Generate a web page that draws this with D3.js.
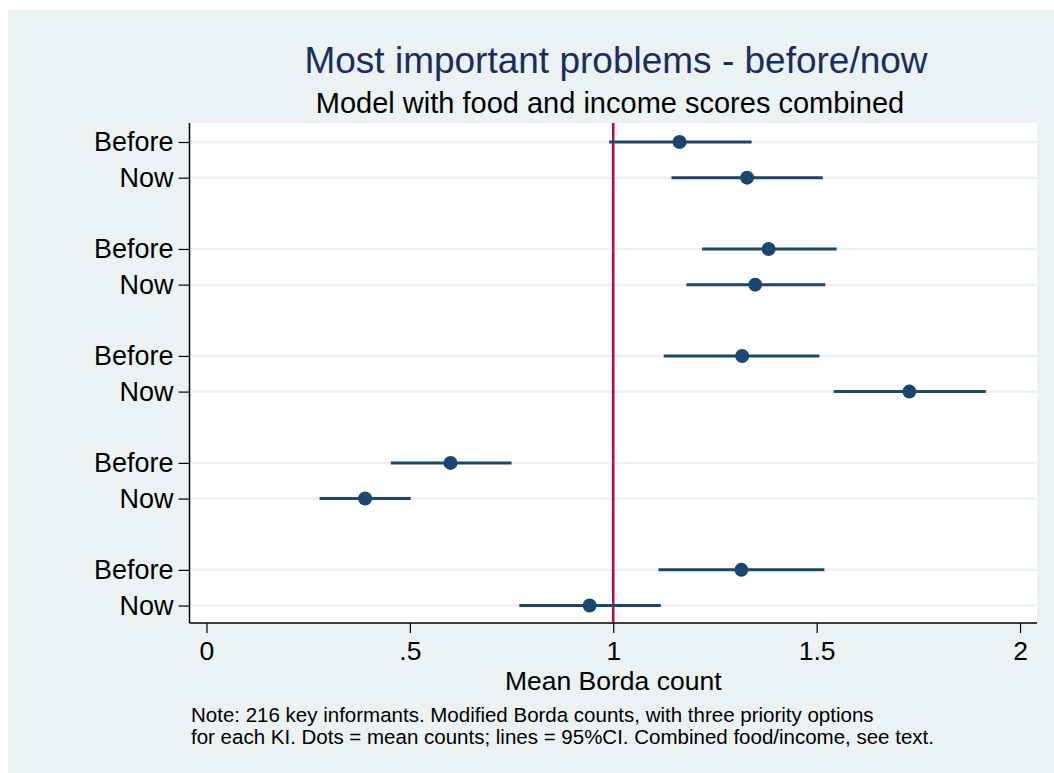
<!DOCTYPE html>
<html>
<head>
<meta charset="utf-8">
<script src="https://cdn.jsdelivr.net/npm/d3@7"></script>
<style>
  html, body { margin: 0; padding: 0; background: #ffffff; }
  svg { display: block; }
  text { font-family: "Liberation Sans", Arial, sans-serif; }
</style>
</head>
<body>
<svg id="chart" width="1054" height="773"></svg>
<script>
// ---- data ----
const rowLabels = ["Before", "Now", "Before", "Now", "Before", "Now", "Before", "Now", "Before", "Now"];
const rowPositions = [0, 1, 3, 4, 6, 7, 9, 10, 12, 13];
const means = [1.163, 1.329, 1.382, 1.349, 1.317, 1.728, 0.600, 0.390, 1.315, 0.942];
const ciLow = [0.990, 1.143, 1.218, 1.180, 1.124, 1.542, 0.453, 0.278, 1.111, 0.769];
const ciHigh = [1.340, 1.515, 1.549, 1.521, 1.507, 1.916, 0.750, 0.502, 1.519, 1.117];
const xTicks = [0, 0.5, 1, 1.5, 2];
const xTickLabels = ["0", ".5", "1", "1.5", "2"];
const refValue = 1;
const title = "Most important problems - before/now";
const subtitle = "Model with food and income scores combined";
const xTitle = "Mean Borda count";
const noteLines = [
  "Note: 216 key informants. Modified Borda counts, with three priority options",
  "for each KI. Dots = mean counts; lines = 95%CI. Combined food/income, see text."
];

// ---- layout ----
const W = 1054, H = 773;
const plot = { left: 189.5, right: 1037, top: 123, bottom: 623 };
const bg = "#eaf2f3";
const navy = "#1a476f";
const red = "#c10534";

const svg = d3.select("#chart");

svg.append("rect").attr("x", 8).attr("y", 10).attr("width", W - 8).attr("height", H - 10).attr("fill", bg);
svg.append("rect").attr("x", plot.left).attr("y", plot.top)
  .attr("width", plot.right - plot.left).attr("height", plot.bottom - plot.top).attr("fill", "#ffffff");

const x = d3.scaleLinear().domain([-0.0417, 2.0417]).range([plot.left, plot.right]);
const y = d3.scaleLinear().domain([-0.533, 13.49]).range([plot.top, plot.bottom]);

const rows = rowLabels.map((l, i) => ({ label: l, pos: rowPositions[i], m: means[i], lo: ciLow[i], hi: ciHigh[i] }));

// gridlines
svg.append("g").selectAll("line").data(rows).join("line")
  .attr("x1", plot.left).attr("x2", plot.right)
  .attr("y1", d => y(d.pos)).attr("y2", d => y(d.pos))
  .attr("stroke", bg).attr("stroke-width", 2.5);

// reference line
svg.append("line")
  .attr("x1", x(refValue)).attr("x2", x(refValue))
  .attr("y1", plot.top).attr("y2", plot.bottom)
  .attr("stroke", red).attr("stroke-width", 2.5);

// CI lines
svg.append("g").selectAll("line").data(rows).join("line")
  .attr("x1", d => x(d.lo)).attr("x2", d => x(d.hi))
  .attr("y1", d => y(d.pos)).attr("y2", d => y(d.pos))
  .attr("stroke", navy).attr("stroke-width", 3);

// dots
svg.append("g").selectAll("circle").data(rows).join("circle")
  .attr("cx", d => x(d.m)).attr("cy", d => y(d.pos)).attr("r", 7)
  .attr("fill", navy);

// x axis
const xAxis = d3.axisBottom(x).tickValues(xTicks)
  .tickFormat((d, i) => xTickLabels[i]).tickSize(10).tickPadding(8);
const gx = svg.append("g").attr("transform", `translate(0,${plot.bottom})`).call(xAxis);
gx.select(".domain").attr("stroke", "#000").attr("stroke-width", 1.5).attr("d", `M${plot.left},0H${plot.right}`);
gx.selectAll(".tick line").attr("stroke", "#000").attr("stroke-width", 1.2);
gx.selectAll(".tick text").attr("font-size", 26.5).attr("fill", "#000")
  .attr("font-family", "'Liberation Sans', Arial, sans-serif");

// y axis
const yAxis = d3.axisLeft(y).tickValues(rowPositions)
  .tickFormat((d, i) => rowLabels[i]).tickSize(11).tickPadding(5);
const gy = svg.append("g").attr("transform", `translate(${plot.left},0)`).call(yAxis);
gy.select(".domain").attr("stroke", "#000").attr("stroke-width", 1.5).attr("d", `M0,${plot.top}V${plot.bottom}`);
gy.selectAll(".tick line").attr("stroke", "#000").attr("stroke-width", 1.2);
gy.selectAll(".tick text").attr("font-size", 27).attr("fill", "#000")
  .attr("font-family", "'Liberation Sans', Arial, sans-serif");

// titles
svg.append("text").attr("x", 616).attr("y", 73).attr("text-anchor", "middle")
  .attr("font-size", 37).attr("fill", "#1c2d5b").text(title);
svg.append("text").attr("x", 610).attr("y", 112.5).attr("text-anchor", "middle")
  .attr("font-size", 29).attr("fill", "#000").text(subtitle);
svg.append("text").attr("x", x(1)).attr("y", 690).attr("text-anchor", "middle")
  .attr("font-size", 26.5).attr("fill", "#000").text(xTitle);

svg.append("g").selectAll("text").data(noteLines).join("text")
  .attr("x", 191).attr("y", (d, i) => 722 + i * 22)
  .attr("font-size", 20.5).attr("fill", "#000").text(d => d);
</script>
</body>
</html>
